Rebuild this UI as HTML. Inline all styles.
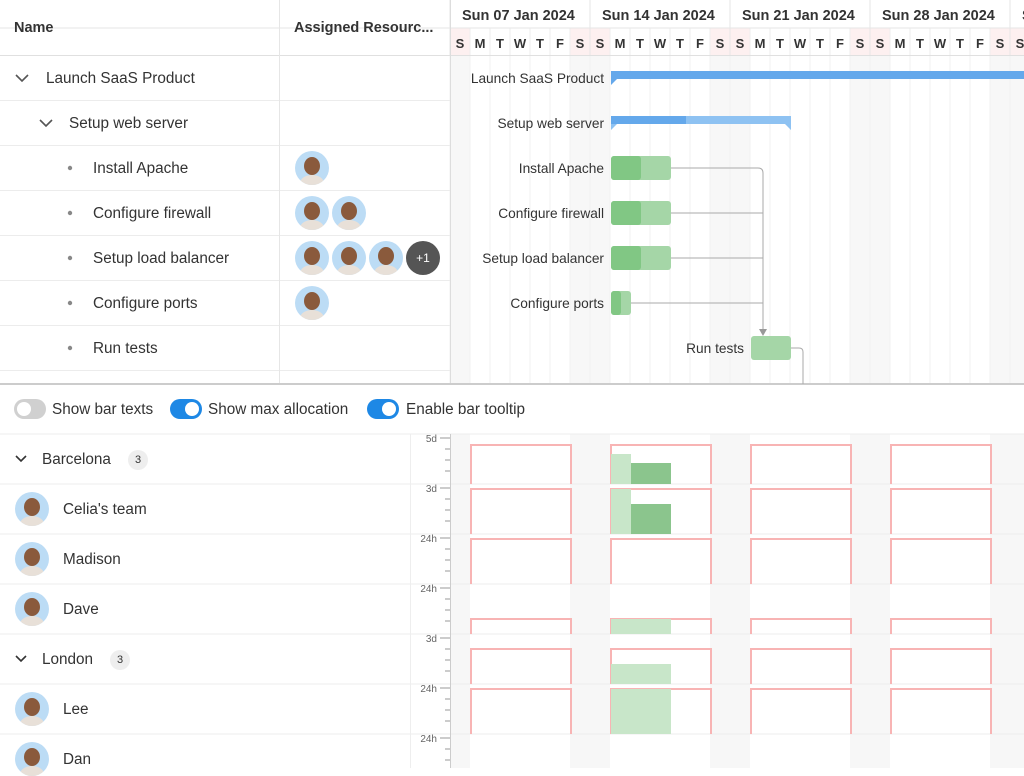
<!DOCTYPE html>
<html><head><meta charset="utf-8"><style>
*{box-sizing:border-box;margin:0;padding:0}
body{width:1024px;height:768px;overflow:hidden;background:#fff;font-family:"Liberation Sans",sans-serif;color:#333;position:relative}
.a{position:absolute;white-space:nowrap}
.t{font-size:15.3px;color:#333}
.g{font-size:13.7px}
.av{position:absolute;width:34px;height:34px;border-radius:50%;background:#bcdcf5;overflow:hidden}
.av::after{content:"";position:absolute;left:9px;top:6px;width:16px;height:18px;border-radius:50%;background:#8a5a3c}
.av::before{content:"";position:absolute;left:5px;top:24px;width:24px;height:16px;border-radius:50%;background:#e8e0d8}
.tog{position:absolute;width:32px;height:20px;border-radius:10px}
.tog i{position:absolute;top:3px;width:14px;height:14px;border-radius:50%;background:#fff}
</style></head><body>
<svg id="s" class="a" style="left:0;top:0" width="1024" height="768"></svg>
<div class="a t" style="left:14px;top:20px;font-weight:bold;font-size:14.5px">Name</div>
<div class="a t" style="left:294px;top:20px;font-weight:bold;font-size:14.5px">Assigned Resourc...</div>
<div class="a t" style="left:46px;top:70px">Launch SaaS Product</div>
<div class="a t" style="left:69px;top:115px">Setup web server</div>
<div class="a t" style="left:93px;top:160px">Install Apache</div>
<div class="a t" style="left:93px;top:205px">Configure firewall</div>
<div class="a t" style="left:93px;top:250px">Setup load balancer</div>
<div class="a t" style="left:93px;top:295px">Configure ports</div>
<div class="a t" style="left:93px;top:340px">Run tests</div>
<div class="av" style="left:295px;top:151px"></div>
<div class="av" style="left:295px;top:196px"></div><div class="av" style="left:332px;top:196px"></div>
<div class="av" style="left:295px;top:241px"></div><div class="av" style="left:332px;top:241px"></div><div class="av" style="left:369px;top:241px"></div>
<div class="a" style="left:406px;top:241px;width:34px;height:34px;border-radius:50%;background:#555;color:#fff;font-size:12px;text-align:center;line-height:34px">+1</div>
<div class="av" style="left:295px;top:286px"></div>
<div class="a t g" style="right:420px;top:71px">Launch SaaS Product</div>
<div class="a t g" style="right:420px;top:116px">Setup web server</div>
<div class="a t g" style="right:420px;top:161px">Install Apache</div>
<div class="a t g" style="right:420px;top:206px">Configure firewall</div>
<div class="a t g" style="right:420px;top:251px">Setup load balancer</div>
<div class="a t g" style="right:420px;top:296px">Configure ports</div>
<div class="a t g" style="right:280px;top:341px">Run tests</div>
<div class="tog" style="left:14px;top:399px;background:#d0d0d0"><i style="left:3px"></i></div>
<div class="a t" style="left:52px;top:401px">Show bar texts</div>
<div class="tog" style="left:170px;top:399px;background:#1e88e5"><i style="left:15px"></i></div>
<div class="a t" style="left:208px;top:401px">Show max allocation</div>
<div class="tog" style="left:367px;top:399px;background:#1e88e5"><i style="left:15px"></i></div>
<div class="a t" style="left:406px;top:401px">Enable bar tooltip</div>
<div class="a t" style="left:42px;top:451px">Barcelona</div>
<div class="a" style="left:128px;top:450px;width:20px;height:20px;border-radius:50%;background:#eee;font-size:11px;text-align:center;line-height:20px">3</div>
<div class="av" style="left:15px;top:492px"></div><div class="a t" style="left:63px;top:501px">Celia's team</div>
<div class="av" style="left:15px;top:542px"></div><div class="a t" style="left:63px;top:551px">Madison</div>
<div class="av" style="left:15px;top:592px"></div><div class="a t" style="left:63px;top:601px">Dave</div>
<div class="a t" style="left:42px;top:651px">London</div>
<div class="a" style="left:110px;top:650px;width:20px;height:20px;border-radius:50%;background:#eee;font-size:11px;text-align:center;line-height:20px">3</div>
<div class="av" style="left:15px;top:692px"></div><div class="a t" style="left:63px;top:701px">Lee</div>
<div class="av" style="left:15px;top:742px"></div><div class="a t" style="left:63px;top:751px">Dan</div>
<script>
var s=document.getElementById('s'),h='';
function r(x,y,w,hh,f,e){h+='<rect x="'+x+'" y="'+y+'" width="'+w+'" height="'+hh+'" fill="'+f+'" '+(e||'')+'/>';}
function l(x1,y1,x2,y2,c,w){h+='<line x1="'+x1+'" y1="'+y1+'" x2="'+x2+'" y2="'+y2+'" stroke="'+c+'" stroke-width="'+(w||1)+'"/>';}
function t(x,y,tx,sz,a,c,fw){h+='<text x="'+x+'" y="'+y+'" font-size="'+sz+'" text-anchor="'+(a||'start')+'" fill="'+(c||'#333')+'" font-family="Liberation Sans" '+(fw?'font-weight="bold"':'')+'>'+tx+'</text>';}
var D='SMTWTFS';
for(var i=0;i<29;i++){var x=450+i*20,d=i%7,we=(d==0||d==6);
 if(we){r(x,28,20,28,'#fdf0f0');r(x,56,20,328,'#f7f7f7');r(x,434,20,334,'#f7f7f7');}
 l(x,28,x,56,'#eee');l(x,56,x,384,'#f0f0f0');
 t(x+10,48,D[d],13,'middle','#333',1);}
for(var w=0;w<5;w++){var x=450+w*140;l(x,0,x,56,'#e6e6e6');t(x+12,20,['Sun 07 Jan 2024','Sun 14 Jan 2024','Sun 21 Jan 2024','Sun 28 Jan 2024','Sun 04 Feb 2024'][w],14.5,'start','#333',1);}
l(0,28,1024,28,'#e6e6e6');l(0,55.5,1024,55.5,'#e0e0e0');
for(var k=1;k<8;k++){l(0,55.5+45*k,450,55.5+45*k,'#ececec');}
l(279.5,0,279.5,384,'#e6e6e6');l(450.5,0,450.5,384,'#ddd');
l(0,384,1024,384,'#ccc',2);l(0,434,1024,434,'#eee');
[484,534,584,634,684,734].forEach(function(y){l(0,y,1024,y,'#eee');});
l(410.5,434,410.5,768,'#eee');l(450.5,434,450.5,768,'#ccc');
h+='<path d="M16 75 l6 6 l6 -6" fill="none" stroke="#555" stroke-width="1.6"/><path d="M40 120 l6 6 l6 -6" fill="none" stroke="#555" stroke-width="1.6"/>';
h+='<path d="M16 456 l5 5 l5 -5" fill="none" stroke="#333" stroke-width="1.6"/><path d="M16 656 l5 5 l5 -5" fill="none" stroke="#333" stroke-width="1.6"/>';
[168,213,258,303,348].forEach(function(y){h+='<circle cx="70" cy="'+y+'" r="2.2" fill="#888"/>';});
r(611,71,413,8,'#64a8eb');h+='<path d="M611 79 l6 0 l-6 6z" fill="#64a8eb"/>';
r(611,116,180,8,'#8ec2f2');r(611,116,75,8,'#64a8eb');h+='<path d="M611 124 l6 0 l-6 6z M791 124 l-6 0 l6 6z" fill="#8ec2f2"/>';
h+='<path d="M671 168 H758 Q763 168 763 173 V330 M671 213 H763 M671 258 H763 M631 303 H763 M791 348 H799 Q803 348 803 352 V384" fill="none" stroke="#aaa"/>';
h+='<path d="M759 329 L763 336 L767 329z" fill="#999"/>';
[[168,611,671,0.5],[213,611,671,0.5],[258,611,671,0.5],[303,611,631,0.5],[348,751,791,0]].forEach(function(b){
 r(b[1],b[0]-12,b[2]-b[1],24,'#a5d6a7','rx="3"');
 if(b[3])r(b[1],b[0]-12,(b[2]-b[1])*b[3],24,'#81c784','rx="3"');});
var rows=[[434,'5d',445],[484,'3d',489],[534,'24h',539],[584,'24h',619],[634,'3d',649],[684,'24h',689],[734,'24h',null]];
rows.forEach(function(R){var y=R[0];t(437,y+8,R[1],10,'end','#666');l(440,y+4,450,y+4,'#999');
 for(var j=1;j<4;j++)l(445,y+4+j*11,450,y+4+j*11,'#999');
 if(R[2]!==null)[471,611,751,891].forEach(function(x){h+='<path d="M'+x+' '+(y+50)+' V'+R[2]+' H'+(x+100)+' V'+(y+50)+'" fill="none" stroke="#f8b4b4" stroke-width="2"/>';});});
r(611,454,20,30,'#c8e6c9');r(631,463,40,21,'#8bc58d');
r(611,489,20,45,'#c8e6c9');r(631,504,40,30,'#8bc58d');
r(611,619,60,15,'#c8e6c9');r(611,664,60,20,'#c8e6c9');r(611,689,60,45,'#c8e6c9');
s.innerHTML=h;
</script>
</body></html>
